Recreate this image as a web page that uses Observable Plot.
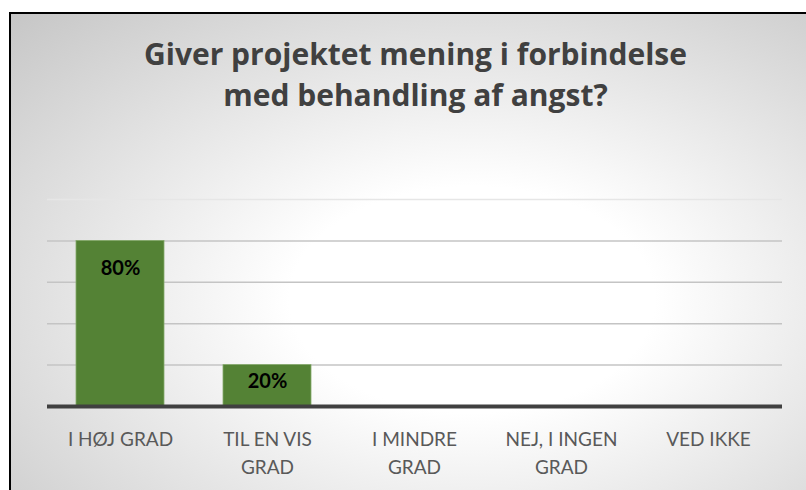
<!DOCTYPE html>
<html>
<head>
<meta charset="utf-8">
<script src="https://cdn.jsdelivr.net/npm/d3@7"></script>
<script src="https://cdn.jsdelivr.net/npm/@observablehq/plot@0.6"></script>
<style>
  html, body { margin: 0; padding: 0; background: #fff; }
  body { width: 806px; height: 490px; position: relative; overflow: hidden; }
  #frame {
    position: absolute; left: 9px; top: 12px; width: 795px; height: 476px;
    border-left: 2px solid #000; border-top: 2px solid #000;
    background: radial-gradient(ellipse farthest-corner at 58% 60%, #ffffff 0%, #ffffff 28%, #c6c6c6 100%);
    overflow: hidden;
  }
  #title {
    position: absolute; left: 7px; top: 19px; width: 795px;
    text-align: center; font-family: "Open Sans", Lato, sans-serif; font-weight: 700;
    font-size: 30px; line-height: 41px; color: #404040;
  }
  #chart { position: absolute; left: 0; top: 146px; }
</style>
</head>
<body>
<div id="frame">
  <div id="title">Giver projektet mening i forbindelse<br>med behandling af angst?</div>
  <div id="chart"></div>
</div>
<script>
const categories = ["I HØJ GRAD", "TIL EN VIS GRAD", "I MINDRE GRAD", "NEJ, I INGEN GRAD", "VED IKKE"];
const tickLabels = ["I HØJ GRAD", "TIL EN VIS\nGRAD", "I MINDRE\nGRAD", "NEJ, I INGEN\nGRAD", "VED IKKE"];
const values = [80, 20, 0, 0, 0];
const gridTicks = [20, 40, 60, 80, 100];

const data = categories.map((c, i) => ({category: c, value: values[i]}));
const tall = data.filter(d => d.value >= 50);
const short = data.filter(d => d.value > 0 && d.value < 50);

const chart = Plot.plot({
  width: 795,
  height: 330,
  marginTop: 39,
  marginBottom: 84,
  marginLeft: 36,
  marginRight: 24,
  style: {background: "transparent", fontFamily: "Lato, 'Open Sans', sans-serif", fontSize: "19px", overflow: "visible"},
  x: {domain: categories, paddingInner: 0.4, paddingOuter: 0.2, label: null},
  y: {domain: [0, 100], axis: null, label: null},
  marks: [
    Plot.ruleY(gridTicks, {stroke: d => d === 100 ? "#e6e6e6" : "#c4c4c4", strokeWidth: 1.5}),
    Plot.barY(data, {x: "category", y: "value", fill: "#548235", stroke: "#86aa6c", strokeWidth: 0.8}),
    Plot.ruleY([0], {stroke: "#404040", strokeWidth: 4}),
    Plot.text(tall, {x: "category", y: "value", text: d => d.value + "%", dy: 28, fontSize: 20, fontWeight: "bold", fill: "#000"}),
    Plot.text(short, {x: "category", y: "value", text: d => d.value + "%", dy: 16, fontSize: 20, fontWeight: "bold", fill: "#000"}),
    Plot.axisX({tickSize: 0, tickPadding: 19, fill: "#595959", fontSize: 19, lineHeight: 1.5,
      tickFormat: d => tickLabels[categories.indexOf(d)]})
  ]
});
document.getElementById("chart").appendChild(chart);
</script>
</body>
</html>
